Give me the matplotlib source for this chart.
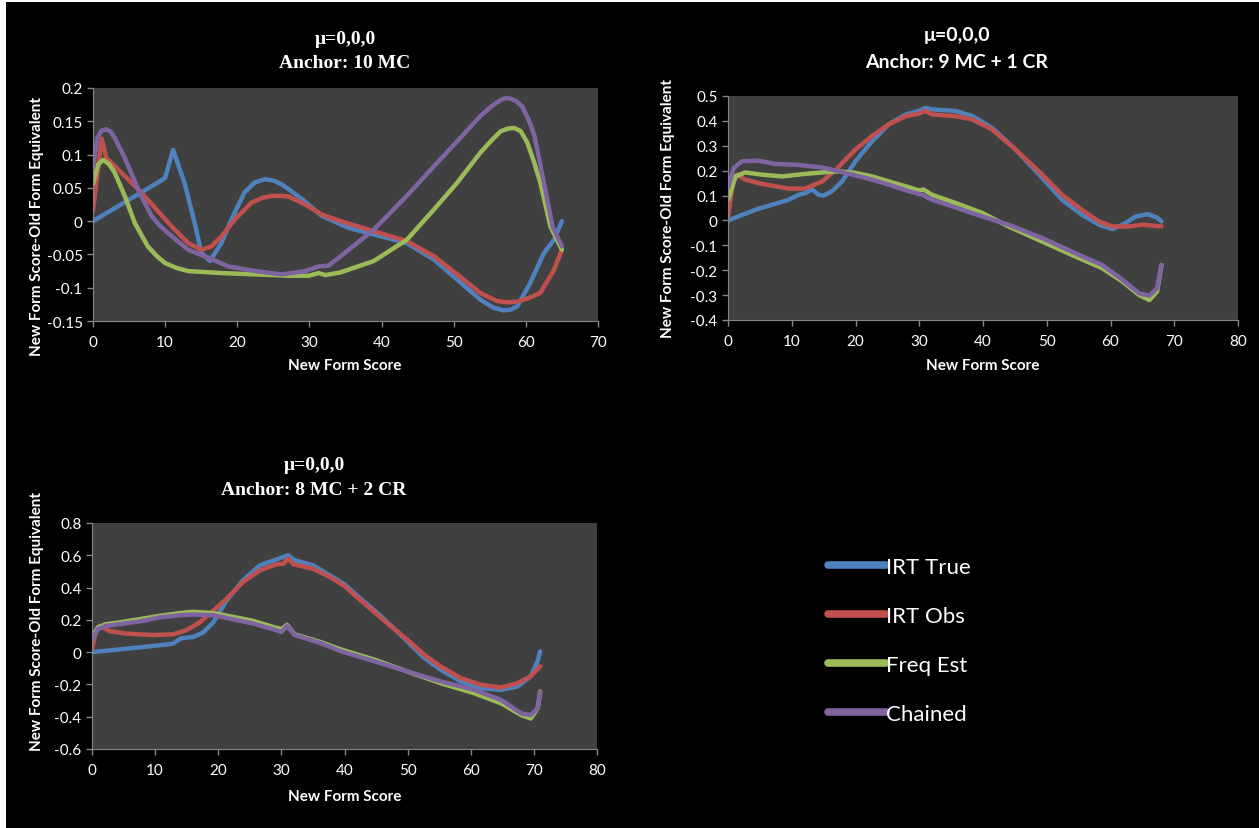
import matplotlib.pyplot as plt
from matplotlib.patches import Rectangle

# ---- Anchor: 10 MC ----
p1_true_x = [0, 9.3, 10, 11.1, 12.7, 14.1, 15, 16.2, 17.8, 19.2, 21, 22.4, 23.8, 25, 26.2, 29, 31.7,
             35.4, 38.9, 43.5, 47.3, 50.5, 53.7, 55.5, 56.9, 57.9, 58.8, 60.6, 62.5, 63.9, 65]
p1_true_y = [0, 0.06, 0.065, 0.107, 0.057, -0.003, -0.047, -0.06, -0.033, 0.003, 0.043, 0.058,
             0.063, 0.061, 0.055, 0.033, 0.008, -0.01, -0.02, -0.033, -0.058, -0.088, -0.118,
             -0.13, -0.134, -0.133, -0.128, -0.093, -0.048, -0.028, 0]
p1_obs_x = [0, 1.2, 1.85, 3.9, 6.25, 8.6, 10.9, 13.2, 15, 16.4, 17.8, 19.7, 22, 23.5, 24.8, 26,
            27.1, 29.4, 31.7, 34.3, 38.9, 43.5, 47.3, 50.5, 53.7, 56, 57.5, 58.8, 60.5, 62, 63.9, 65]
p1_obs_y = [0.016, 0.124, 0.095, 0.073, 0.048, 0.02, -0.008, -0.033, -0.043, -0.038, -0.023, 0.003,
            0.028, 0.035, 0.038, 0.038, 0.037, 0.025, 0.01, 0, -0.015, -0.03, -0.053, -0.08,
            -0.108, -0.12, -0.122, -0.121, -0.115, -0.108, -0.073, -0.043]
p1_freq_x = [0, 0.7, 1.4, 2.2, 3, 4.4, 5.8, 7.6, 8.8, 10, 11.5, 13.2, 17.8, 22.5, 27.1, 29.9, 31.3,
             32.2, 34.3, 38.9, 43.5, 47.3, 50.5, 53.7, 55.3, 56.5, 57.5, 58.4, 59.3, 60.2, 61.1,
             62, 63.4, 65]
p1_freq_y = [0.056, 0.085, 0.092, 0.086, 0.073, 0.038, -0.003, -0.038, -0.052, -0.063, -0.07,
             -0.075, -0.078, -0.08, -0.082, -0.082, -0.078, -0.081, -0.077, -0.06, -0.028, 0.018,
             0.058, 0.103, 0.122, 0.135, 0.139, 0.14, 0.135, 0.118, 0.09, 0.058, -0.008, -0.043]
p1_chain_x = [0, 0.6, 1.2, 1.85, 2.4, 3, 4.4, 6.25, 7.2, 8.1, 9.2, 10.4, 13.2, 16, 18.75, 22.5,
              26.2, 29.4, 31.3, 32.6, 34.3, 38.9, 43.5, 47.3, 50.5, 53.7, 55.3, 56.5, 57.2, 57.9,
              58.7, 59.5, 60.4, 61.2, 62.5, 63.7, 65]
p1_chain_y = [0.08, 0.125, 0.136, 0.138, 0.135, 0.125, 0.095, 0.048, 0.027, 0.008, -0.006, -0.018,
              -0.043, -0.055, -0.068, -0.075, -0.08, -0.075, -0.068, -0.067, -0.053, -0.013,
              0.038, 0.083, 0.12, 0.158, 0.173, 0.182, 0.185, 0.184, 0.18, 0.172, 0.152, 0.128,
              0.058, -0.008, -0.038]

# ---- Anchor: 9 MC + 1 CR ----
p2_true_x = [0, 4.3, 9.5, 11.1, 12.1, 13.2, 14.2, 15, 16.3, 17.9, 20, 22.6, 25.2, 27.9, 29.9, 31,
             32, 35.7, 38.3, 41.4, 45.1, 49.3, 52.4, 55.5, 58.2, 60.3, 61.9, 64, 65.8, 67.3, 68]
p2_true_y = [0, 0.043, 0.083, 0.103, 0.11, 0.124, 0.103, 0.1, 0.117, 0.157, 0.238, 0.318, 0.386,
             0.426, 0.44, 0.452, 0.446, 0.44, 0.42, 0.372, 0.285, 0.171, 0.083, 0.023, -0.017,
             -0.034, -0.017, 0.016, 0.025, 0.012, -0.004]
p2_obs_x = [0, 0.9, 1.4, 2.7, 5.3, 9.5, 12.1, 14.8, 16.9, 20, 22.6, 25.2, 27.9, 29.9, 31, 32, 35.7,
            38.3, 41.4, 45.1, 49.3, 52.4, 55.5, 58.2, 60.3, 63, 65, 68]
p2_obs_y = [0.016, 0.17, 0.184, 0.164, 0.147, 0.128, 0.128, 0.157, 0.204, 0.285, 0.339, 0.386,
            0.419, 0.429, 0.44, 0.426, 0.419, 0.406, 0.366, 0.285, 0.184, 0.103, 0.043, -0.004,
            -0.024, -0.024, -0.017, -0.024]
p2_freq_x = [0, 1.2, 2.7, 5.3, 8.5, 12.1, 14.8, 17.4, 20, 22.6, 25.2, 27.9, 29.9, 30.7, 32, 35.7,
             39.9, 44, 49.3, 54.5, 58.7, 61.9, 64.5, 66.1, 67.3, 68]
p2_freq_y = [0.083, 0.177, 0.193, 0.184, 0.177, 0.187, 0.193, 0.197, 0.191, 0.177, 0.157, 0.137,
             0.121, 0.124, 0.103, 0.07, 0.03, -0.024, -0.085, -0.145, -0.192, -0.246, -0.3,
             -0.32, -0.286, -0.179]
p2_chain_x = [0, 0.9, 2.2, 4.8, 7.4, 10.6, 14.8, 17.4, 20, 22.6, 25.2, 28.4, 30.5, 32, 35.7, 39.9,
              44, 49.3, 54.5, 58.7, 61.9, 64.5, 66.1, 67.3, 68]
p2_chain_y = [0.13, 0.211, 0.238, 0.24, 0.227, 0.224, 0.213, 0.197, 0.181, 0.164, 0.144, 0.117,
              0.103, 0.083, 0.052, 0.016, -0.017, -0.071, -0.132, -0.179, -0.239, -0.293, -0.302,
              -0.273, -0.179]

# ---- Anchor: 8 MC + 2 CR ----
p3_true_x = [0, 4.3, 9.6, 12.8, 14.1, 16, 17.6, 19.2, 21.3, 23.9, 26.6, 29.2, 31.1, 32.1, 35, 37.7,
             40, 42, 45.7, 49.9, 52.6, 55.2, 58.4, 61.6, 64.8, 67.4, 69.5, 70.6, 71]
p3_true_y = [0, 0.017, 0.038, 0.052, 0.086, 0.094, 0.121, 0.184, 0.319, 0.444, 0.538, 0.574, 0.6,
             0.569, 0.538, 0.475, 0.42, 0.35, 0.225, 0.069, -0.035, -0.108, -0.181, -0.223,
             -0.234, -0.213, -0.15, -0.056, 0.005]
p3_obs_x = [0, 0.6, 1.2, 2.75, 5.4, 9.6, 12.8, 14.9, 17, 19.2, 21.3, 23.9, 26.6, 29.2, 30.3, 31.1,
            31.9, 35, 37.7, 40, 42, 45.7, 49.9, 52.6, 55.2, 58.4, 61.6, 64.8, 67.4, 69.5, 71]
p3_obs_y = [0.017, 0.131, 0.163, 0.131, 0.115, 0.106, 0.11, 0.135, 0.183, 0.256, 0.33, 0.434,
            0.507, 0.544, 0.548, 0.58, 0.544, 0.517, 0.465, 0.41, 0.34, 0.215, 0.079, -0.015,
            -0.088, -0.16, -0.202, -0.219, -0.192, -0.15, -0.088]
p3_freq_x = [0, 0.9, 2.2, 4.3, 7.5, 10.7, 13.9, 16, 19.2, 22.3, 25.5, 28.7, 30, 30.9, 32.1, 36.1,
             39.4, 44.7, 49.9, 55.2, 60.5, 64.8, 68, 69.5, 70.6, 71]
p3_freq_y = [0.09, 0.152, 0.173, 0.184, 0.204, 0.225, 0.242, 0.25, 0.242, 0.219, 0.194, 0.156,
             0.142, 0.169, 0.11, 0.064, 0.017, -0.046, -0.119, -0.192, -0.254, -0.317, -0.39,
             -0.411, -0.348, -0.244]
p3_chain_x = [0, 0.9, 2.2, 4.3, 7.5, 10.7, 13.9, 16, 19.2, 22.3, 25.5, 28.7, 30, 30.9, 32.1, 36.1,
              39.4, 44.7, 49.9, 55.2, 60.5, 64.8, 68, 69.5, 70.6, 71]
p3_chain_y = [0.069, 0.142, 0.163, 0.173, 0.19, 0.215, 0.229, 0.233, 0.229, 0.204, 0.177, 0.142,
              0.125, 0.163, 0.106, 0.058, 0.006, -0.056, -0.119, -0.181, -0.233, -0.296, -0.38,
              -0.39, -0.348, -0.248]

series_names = ['IRT True', 'IRT Obs', 'Freq Est', 'Chained']
series_colors = ['#4F81BD', '#C0504D', '#9BBB59', '#8064A2']

titles = ['Anchor: 10 MC', 'Anchor: 9 MC + 1 CR', 'Anchor: 8 MC + 2 CR']
y_ticks = [[-0.15, -0.1, -0.05, 0, 0.05, 0.1, 0.15, 0.2],
           [-0.4, -0.3, -0.2, -0.1, 0, 0.1, 0.2, 0.3, 0.4, 0.5],
           [-0.6, -0.4, -0.2, 0, 0.2, 0.4, 0.6, 0.8]]
x_max = [70, 80, 80]

panels = [
    [(p1_true_x, p1_true_y), (p1_obs_x, p1_obs_y), (p1_freq_x, p1_freq_y), (p1_chain_x, p1_chain_y)],
    [(p2_true_x, p2_true_y), (p2_obs_x, p2_obs_y), (p2_freq_x, p2_freq_y), (p2_chain_x, p2_chain_y)],
    [(p3_true_x, p3_true_y), (p3_obs_x, p3_obs_y), (p3_freq_x, p3_freq_y), (p3_chain_x, p3_chain_y)],
]

W, H = 1259, 829
fig = plt.figure(figsize=(W / 100, H / 100), dpi=100, facecolor='white')
fig.patches.append(Rectangle((6 / W, 0), 1, 1 - 3 / H, transform=fig.transFigure,
                             facecolor='black', edgecolor='none', zorder=-1))


def px(x, y):
    return x / W, 1 - y / H


# axes boxes in pixels: left, top, right, bottom
boxes = [(93, 89, 598, 322), (728, 97, 1238, 321), (92, 524, 597, 750)]
# title centre x, first line y, second line y
title_pos = [(345, 40, 64), (957, 36, 62), (314, 466, 491)]
title_font = [['Liberation Serif'], ['Lato'], ['Liberation Serif']]
ylabel_pos = [(37, 227), (668, 208), (37, 622)]
xlabel_pos = [(345, 366), (983, 366), (345, 797)]

axes = []
for i in range(3):
    l, t, r, b = boxes[i]
    ax = fig.add_axes([l / W, 1 - b / H, (r - l) / W, (b - t) / H])
    ax.set_facecolor('#404040')
    for k, (xs, ys) in enumerate(panels[i]):
        ax.plot(xs, ys, color=series_colors[k], lw=3.2, solid_capstyle='round',
                solid_joinstyle='round', label=series_names[k])
    ax.set_xlim(0, x_max[i])
    ax.set_ylim(y_ticks[i][0], y_ticks[i][-1])
    ax.set_xticks(range(0, x_max[i] + 1, 10))
    ax.set_yticks(y_ticks[i])
    ax.set_yticklabels([f'{v:g}' for v in y_ticks[i]])
    for s in ['top', 'right']:
        ax.spines[s].set_visible(False)
    for s in ['left', 'bottom']:
        ax.spines[s].set_color('#868686')
    ax.tick_params(colors='#868686', labelcolor='white', length=4, width=1,
                   labelsize=11, labelfontfamily='Lato')
    ax.tick_params(axis='x', pad=6)

    cx, y1, y2 = title_pos[i]
    fig.text(*px(cx, y1), 'μ=0,0,0', ha='center', va='center', color='white',
             fontsize=14, fontweight='bold', family=title_font[i])
    fig.text(*px(cx, y2), titles[i], ha='center', va='center', color='white',
             fontsize=14, fontweight='bold', family=title_font[i])
    fig.text(*px(*ylabel_pos[i]), 'New Form Score-Old Form Equivalent', rotation=90,
             ha='center', va='center', color='white', fontsize=11, fontweight='bold',
             family='Lato')
    fig.text(*px(*xlabel_pos[i]), 'New Form Score', ha='center', va='center', color='white',
             fontsize=11, fontweight='bold', family='Lato')
    axes.append(ax)

handles, labels = axes[0].get_legend_handles_labels()
leg = fig.legend(handles, labels, loc='upper left', bbox_to_anchor=px(808, 538),
                 frameon=False, handlelength=2.6, handletextpad=0.0,
                 labelspacing=1.3, prop={'family': 'Lato', 'size': 16})
for h in leg.legend_handles:
    h.set_linewidth(5.5)
for txt in leg.get_texts():
    txt.set_color('white')

fig.savefig('out.png', dpi=100, facecolor=fig.get_facecolor())
